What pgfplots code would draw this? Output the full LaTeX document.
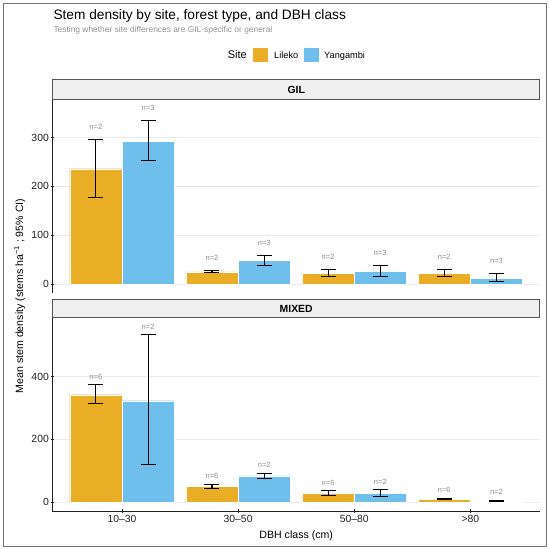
\documentclass[border=0pt]{standalone}
\usepackage{pgfplots}
\pgfplotsset{compat=1.18}
\usepackage{pgfplotstable}
\usepackage{fontspec}
\setmainfont{Liberation Sans}
\definecolor{cL}{HTML}{EAAD26}
\definecolor{cY}{HTML}{6FBFEC}
\definecolor{stripfill}{HTML}{F0F0F0}
\definecolor{stripdraw}{HTML}{555555}
\definecolor{gridc}{HTML}{EBEBEB}
\definecolor{axc}{HTML}{222222}

\pgfplotstableread{
cat mean lo hi n
0 236 178 296 2
1 25 24 27 2
2 22.5 16 30 2
3 22 16 30 2
}\gilL
\pgfplotstableread{
cat mean lo hi n
0 292 253 334 3
1 48 38 59 3
2 26 16 38 3
3 12 6 21 3
}\gilY
\pgfplotstableread{
cat mean lo hi n
0 342 314 374 6
1 50 45 57 6
2 29 22 37 6
3 10 8 13 6
}\mixL
\pgfplotstableread{
cat mean lo hi n
0 323 119 533 2
1 84 76 92 2
2 28 18 40 2
3 4 3 6 2
}\mixY

\newcommand{\nfont}{\fontsize{7.5bp}{9bp}\selectfont}
\pgfplotsset{
  errs/.style={error bars/.cd, y dir=both, y explicit,
    error bar style={draw=black, line width=1.1bp},
    error mark=-,
    error mark options={draw=black, line width=1.1bp, mark size=7.5bp, rotate=90}},
  barL/.style={ybar, bar width=0.45, bar shift=0pt, fill=cL, draw=white, line width=0.4bp, errs},
  barY/.style={ybar, bar width=0.45, bar shift=0pt, fill=cY, draw=white, line width=0.4bp, errs},
  nlab/.style={draw=none, mark=none, nodes near coords={n=\pgfplotspointmeta},
    point meta=explicit symbolic,
    nodes near coords style={anchor=center, font=\nfont, text=black!45, inner sep=0pt}},
  panel/.style={scale only axis, width=487.7bp, height=193.4bp,
    xmin=-0.6, xmax=3.6, clip=false,
    ymajorgrids, grid style={line width=0.6bp, color=gridc},
    tick style={line width=0.7bp, color=axc},
    tick align=outside, major tick length=3.5bp,
    tick label style={font=\fontsize{10.4bp}{12bp}\selectfont, text=axc},
    /pgf/number format/assume math mode=true,
    yticklabel style={inner sep=1.5bp},
    xticklabel style={inner sep=2bp},
  },
  nolinearrows/.style={
    axis line style={-, line width=0.7bp, color=axc},
    every outer x axis line/.append style={-},
    every outer y axis line/.append style={-},
    every inner x axis line/.append style={-},
    every inner y axis line/.append style={-},
  },
}

\begin{document}
\begin{tikzpicture}
\path[use as bounding box, fill=white] (0bp,0bp) rectangle (550bp,550bp);
\draw[color=black!55, line width=1bp] (3.5bp,3.5bp) rectangle (546.5bp,546.5bp);

% titles
\node[anchor=base west, inner sep=0pt] at (53.3bp,530.5bp) {\fontsize{13.7bp}{16bp}\selectfont Stem density by site, forest type, and DBH class};
\node[anchor=base west, inner sep=0pt, text=black!42] at (53.3bp,517bp) {\fontsize{8.4bp}{10bp}\selectfont Testing whether site differences are GIL-specific or general};

% legend
\node[anchor=base west, inner sep=0pt] at (227.7bp,491.5bp) {\fontsize{11bp}{13bp}\selectfont Site};
\fill[cL] (253.3bp,487.7bp) rectangle (268.3bp,501.7bp);
\node[anchor=base west, inner sep=0pt] at (274bp,491.5bp) {\fontsize{9.2bp}{11bp}\selectfont Lileko};
\fill[cY] (304.3bp,487.7bp) rectangle (319.3bp,501.7bp);
\node[anchor=base west, inner sep=0pt] at (324bp,491.5bp) {\fontsize{9.2bp}{11bp}\selectfont Yangambi};

% GIL panel
\begin{axis}[panel, at={(52.3bp,257.2bp)}, anchor=south west,
  ymin=-18, ymax=378, ytick={0,100,200,300},
  axis x line=none, axis y line=left, nolinearrows]
\addplot[barL] table[x expr=\thisrow{cat}-0.225, y=mean,
  y error plus expr=\thisrow{hi}-\thisrow{mean},
  y error minus expr=\thisrow{mean}-\thisrow{lo}] {\gilL};
\addplot[barY] table[x expr=\thisrow{cat}+0.225, y=mean,
  y error plus expr=\thisrow{hi}-\thisrow{mean},
  y error minus expr=\thisrow{mean}-\thisrow{lo}] {\gilY};
\addplot[nlab] table[x expr=\thisrow{cat}-0.225, y expr=\thisrow{hi}+26, meta=n] {\gilL};
\addplot[nlab] table[x expr=\thisrow{cat}+0.225, y expr=\thisrow{hi}+26, meta=n] {\gilY};
\end{axis}

% MIXED panel
\begin{axis}[panel, at={(52.3bp,38.9bp)}, anchor=south west,
  ymin=-28, ymax=587, ytick={0,200,400},
  axis x line=bottom, axis y line=left, nolinearrows,
  xtick={0,1,2,3}, xticklabels={10–30,30–50,50–80,>80}]
\addplot[barL] table[x expr=\thisrow{cat}-0.225, y=mean,
  y error plus expr=\thisrow{hi}-\thisrow{mean},
  y error minus expr=\thisrow{mean}-\thisrow{lo}] {\mixL};
\addplot[barY] table[x expr=\thisrow{cat}+0.225, y=mean,
  y error plus expr=\thisrow{hi}-\thisrow{mean},
  y error minus expr=\thisrow{mean}-\thisrow{lo}] {\mixY};
\addplot[nlab] table[x expr=\thisrow{cat}-0.225, y expr=\thisrow{hi}+26, meta=n] {\mixL};
\addplot[nlab] table[x expr=\thisrow{cat}+0.225, y expr=\thisrow{hi}+26, meta=n] {\mixY};
\end{axis}

% strips
\draw[fill=stripfill, draw=stripdraw, line width=1bp] (52.8bp,450.9bp) rectangle (539.5bp,470bp);
\node[font=\bfseries\fontsize{10.4bp}{12bp}\selectfont] at (296.2bp,460.4bp) {GIL};
\draw[fill=stripfill, draw=stripdraw, line width=1bp] (52.8bp,232.6bp) rectangle (539.5bp,250.5bp);
\node[font=\bfseries\fontsize{10.4bp}{12bp}\selectfont] at (296.2bp,241.5bp) {MIXED};

% axis titles
\node[anchor=base, inner sep=0pt] at (296.2bp,12bp) {\fontsize{10.6bp}{12bp}\selectfont DBH class (cm)};
\node[rotate=90, anchor=base, inner sep=0pt] at (23bp,254bp) {\fontsize{10.6bp}{12bp}\selectfont Mean stem density (stems ha\textsuperscript{−1} ; 95\% CI)};
\end{tikzpicture}
\end{document}
